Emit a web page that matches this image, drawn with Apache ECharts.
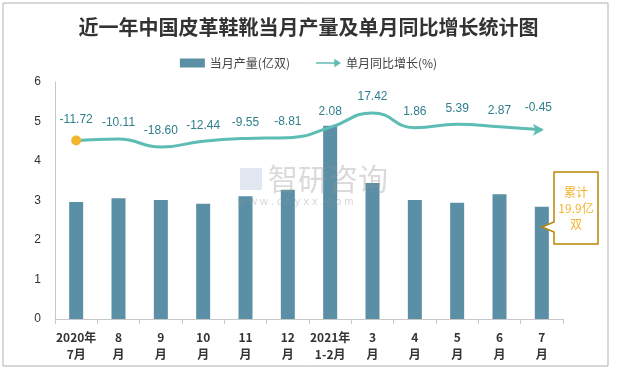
<!DOCTYPE html>
<html><head><meta charset="utf-8">
<script src="https://cdn.jsdelivr.net/npm/echarts@6/dist/echarts.min.js"></script>
<style>html,body{margin:0;padding:0;background:#fff}#c{width:617px;height:370px}</style>
</head><body><div id="c"></div>
<script>
const categories = ['2020年\n7月','8\n月','9\n月','10\n月','11\n月','12\n月','2021年\n1-2月','3\n月','4\n月','5\n月','6\n月','7\n月'];
const output = [2.96, 3.06, 3.01, 2.92, 3.11, 3.27, 4.89, 3.44, 3.01, 2.94, 3.16, 2.84];
const growth = [-11.72, -10.11, -18.60, -12.44, -9.55, -8.81, 2.08, 17.42, 1.86, 5.39, 2.87, -0.45];
const yTicks = [0, 1, 2, 3, 4, 5, 6];

const chart = echarts.init(document.getElementById('c'));
const lineData = growth.map((v, i) => {
  if (i === 0) return {value: v, symbol: 'circle', symbolSize: 10, itemStyle: {color: '#F3B52E'}};
  if (i === growth.length - 1) return {value: v, symbol: 'arrow', symbolSize: [9, 11], symbolRotate: -90, symbolOffset: [2, 0], itemStyle: {color: '#5DBDB4'}};
  return {value: v, symbolSize: 0};
});
chart.setOption({
  animation: false,
  title: {text: '近一年中国皮革鞋靴当月产量及单月同比增长统计图', left: 'center', top: 12,
    textStyle: {fontSize: 20, fontWeight: 'bold', color: '#333', fontFamily: 'Noto Sans CJK SC'}},
  legend: {top: 52, left: 'center', itemGap: 26, itemWidth: 25, itemHeight: 9,
    textStyle: {fontSize: 12, color: '#444', fontFamily: 'Noto Sans CJK SC'},
    data: [{name: '当月产量(亿双)', icon: 'rect'}, {name: '单月同比增长(%)', icon: 'path://M0,4 L22,4 L22,0 L30,5 L22,10 L22,6 L0,6 Z'}]},
  grid: {left: 55, right: 54, top: 82, bottom: 51},
  xAxis: {type: 'category', data: categories, boundaryGap: true,
    axisLine: {lineStyle: {color: '#c8c8c8'}},
    axisTick: {show: true, length: 5, lineStyle: {color: '#c8c8c8'}},
    axisLabel: {color: '#333', fontSize: 12, fontWeight: 'bold', lineHeight: 17, margin: 10, interval: 0, fontFamily: 'Noto Sans CJK SC'}},
  yAxis: [
    {type: 'value', min: yTicks[0], max: yTicks[yTicks.length - 1], interval: 1,
      axisLine: {show: true, lineStyle: {color: '#c8c8c8'}}, axisTick: {show: false}, splitLine: {show: false},
      axisLabel: {color: '#333', fontSize: 12, margin: 14}},
    {type: 'value', min: -200, max: 50, show: false, splitLine: {show: false}}
  ],
  series: [
    {name: '当月产量(亿双)', type: 'bar', data: output, barWidth: 14, itemStyle: {color: '#5B8FA5'}, z: 2},
    {name: '单月同比增长(%)', type: 'line', yAxisIndex: 1, data: lineData, smooth: 0.5, symbol: 'circle',
      lineStyle: {color: '#5DBDB4', width: 3}, itemStyle: {color: '#5DBDB4'}, z: 3,
      label: {show: true, position: 'top', distance: 10, color: '#2F7F8C', fontSize: 12,
        formatter: p => p.value.toFixed(2)}}
  ],
  graphic: [
    {type: 'rect', shape: {x: 3, y: 3, width: 605, height: 363}, style: {fill: 'none', stroke: '#b0b0b0', lineWidth: 1}, silent: true, z: -10},
    {type: 'text', left: 268, top: 164, style: {text: '智研咨询', fontSize: 30, fill: 'rgba(150,150,150,0.35)', fontFamily: 'Noto Sans CJK SC'}, z: 10},
    {type: 'text', left: 238, top: 196, style: {text: 'w w w . c h y x x . c o m', fontSize: 11, fill: 'rgba(150,150,150,0.4)'}, z: 10},
    {type: 'rect', shape: {x: 240, y: 168, width: 22, height: 22}, style: {fill: 'rgba(140,160,200,0.25)'}, z: 10},
    {type: 'polygon', shape: {points: [[554,172],[598,172],[598,244],[554,244],[554,232],[542,227],[554,222]]},
      style: {fill: '#fff', stroke: '#B8860B', lineWidth: 1.5}, z: 20},
    {type: 'text', x: 576, y: 208, style: {text: '累计\n19.9亿\n双', fill: '#F3B52E', fontSize: 12, lineHeight: 16, align: 'center', verticalAlign: 'middle', fontFamily: 'Noto Sans CJK SC'}, z: 21}
  ]
});
</script></body></html>
